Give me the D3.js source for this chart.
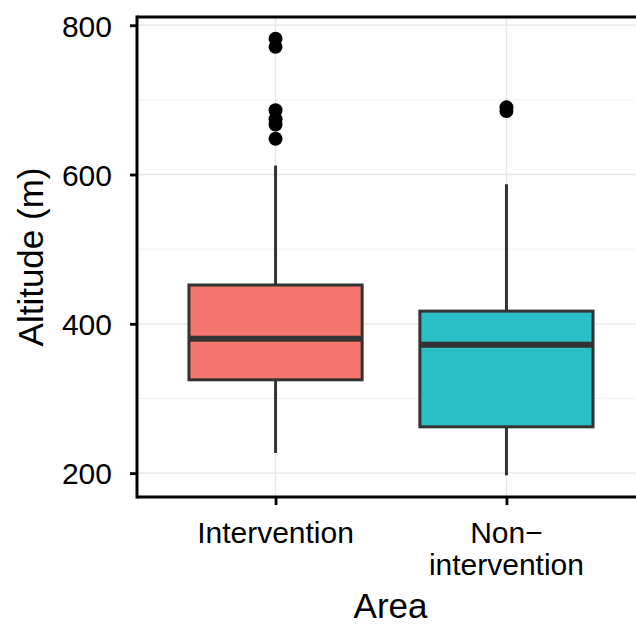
<!DOCTYPE html>
<html>
<head>
<meta charset="utf-8">
<script src="https://cdn.jsdelivr.net/npm/d3@7"></script>
<style>
  html, body { margin: 0; padding: 0; background: #fff; }
  svg { display: block; font-family: "Liberation Sans", Arial, Helvetica, sans-serif; }
</style>
</head>
<body>
<svg id="chart" width="636" height="626"></svg>
<script>
// ---- data ----
const categories = ["Intervention", "Non\u2212\nintervention"];
const whiskerLow  = [227, 197];
const q1          = [325, 262];
const medians     = [380, 372];
const q3          = [452, 417];
const whiskerHigh = [612, 587];
const outliers    = [
  [782, 771, 686, 674, 667, 648],
  [690, 685]
];
const fills = ["#F5766E", "#2ABEC5"];
const yTicks = [200, 400, 600, 800];
const yMinor = [300, 500, 700];
const xTitle = "Area";
const yTitle = "Altitude (m)";

// ---- layout ----
const svg = d3.select("#chart");
const W = 636, H = 626;
const panel = { left: 137, top: 17, bottom: 497, right: 645 };

const y = d3.scaleLinear().domain([168, 811]).range([panel.bottom, panel.top]);
const step = (panel.right - panel.left) / 2.2;
const xPos = d3.scalePoint().domain(categories).range([panel.left + 0.6 * step, panel.left + 1.6 * step]);
const boxW = 0.75 * step;

const g = svg.append("g");

svg.append("defs").append("clipPath").attr("id", "pclip")
  .append("rect").attr("x", panel.left).attr("y", panel.top)
  .attr("width", panel.right - panel.left).attr("height", panel.bottom - panel.top);

const pg = g.append("g").attr("clip-path", "url(#pclip)");

// minor grid
pg.selectAll(".minor").data(yMinor).join("line")
  .attr("x1", panel.left).attr("x2", panel.right)
  .attr("y1", d => y(d)).attr("y2", d => y(d))
  .attr("stroke", "#f2f2f2").attr("stroke-width", 1);
// major grid
pg.selectAll(".majory").data(yTicks).join("line")
  .attr("x1", panel.left).attr("x2", panel.right)
  .attr("y1", d => y(d)).attr("y2", d => y(d))
  .attr("stroke", "#e6e6e6").attr("stroke-width", 1.3);
pg.selectAll(".majorx").data(categories).join("line")
  .attr("x1", d => xPos(d)).attr("x2", d => xPos(d))
  .attr("y1", panel.top).attr("y2", panel.bottom)
  .attr("stroke", "#e6e6e6").attr("stroke-width", 1.3);

// boxplots
const boxes = categories.map((c, i) => ({
  c, lo: whiskerLow[i], q1: q1[i], med: medians[i], q3: q3[i], hi: whiskerHigh[i],
  out: outliers[i], fill: fills[i]
}));
const bg = pg.selectAll(".box").data(boxes).join("g");
bg.append("line")
  .attr("x1", d => xPos(d.c)).attr("x2", d => xPos(d.c))
  .attr("y1", d => y(d.q3)).attr("y2", d => y(d.hi))
  .attr("stroke", "#333").attr("stroke-width", 3);
bg.append("line")
  .attr("x1", d => xPos(d.c)).attr("x2", d => xPos(d.c))
  .attr("y1", d => y(d.q1)).attr("y2", d => y(d.lo))
  .attr("stroke", "#333").attr("stroke-width", 3);
bg.append("rect")
  .attr("x", d => xPos(d.c) - boxW / 2).attr("width", boxW)
  .attr("y", d => y(d.q3)).attr("height", d => y(d.q1) - y(d.q3))
  .attr("fill", d => d.fill).attr("stroke", "#333").attr("stroke-width", 3);
bg.append("line")
  .attr("x1", d => xPos(d.c) - boxW / 2).attr("x2", d => xPos(d.c) + boxW / 2)
  .attr("y1", d => y(d.med)).attr("y2", d => y(d.med))
  .attr("stroke", "#333").attr("stroke-width", 6);
bg.selectAll("circle").data(d => d.out.map(v => ({ c: d.c, v }))).join("circle")
  .attr("cx", d => xPos(d.c)).attr("cy", d => y(d.v)).attr("r", 7)
  .attr("fill", "#000");

// panel border
g.append("line").attr("x1", panel.left).attr("x2", W).attr("y1", panel.top).attr("y2", panel.top)
  .attr("stroke", "#000").attr("stroke-width", 3);
g.append("line").attr("x1", panel.left).attr("x2", W).attr("y1", panel.bottom).attr("y2", panel.bottom)
  .attr("stroke", "#000").attr("stroke-width", 3);
g.append("line").attr("x1", panel.left).attr("x2", panel.left).attr("y1", panel.top - 1.5).attr("y2", panel.bottom + 1.5)
  .attr("stroke", "#000").attr("stroke-width", 3);

// y axis
const yAxis = g.append("g").attr("transform", `translate(${panel.left},0)`)
  .call(d3.axisLeft(y).tickValues(yTicks).tickSize(7).tickPadding(18).tickFormat(d3.format("d")));
yAxis.select(".domain").remove();
yAxis.selectAll(".tick line").attr("stroke", "#000").attr("stroke-width", 2.8);
yAxis.selectAll(".tick text").attr("font-size", 30).attr("fill", "#000")
  .attr("font-family", "Liberation Sans, Arial, sans-serif").attr("dy", "0.36em");

// x axis
const xAxis = g.append("g").attr("transform", `translate(0,${panel.bottom})`)
  .call(d3.axisBottom(xPos).tickSize(8).tickFormat(""));
xAxis.select(".domain").remove();
xAxis.selectAll(".tick line").attr("stroke", "#000").attr("stroke-width", 2.8);
categories.forEach(c => {
  const lines = c.split("\n");
  const t = g.append("text").attr("text-anchor", "middle").attr("font-size", 30).attr("fill", "#000");
  lines.forEach((ln, i) => {
    t.append("tspan").attr("x", xPos(c)).attr("y", 543 + i * 32).text(ln);
  });
});

// titles
g.append("text").attr("x", (panel.left + W) / 2 + 4).attr("y", 618)
  .attr("text-anchor", "middle").attr("font-size", 35).attr("fill", "#000").text(xTitle);
g.append("text").attr("transform", `translate(43,${(panel.top + panel.bottom) / 2}) rotate(-90)`)
  .attr("text-anchor", "middle").attr("font-size", 35).attr("fill", "#000").text(yTitle);
</script>
</body>
</html>
